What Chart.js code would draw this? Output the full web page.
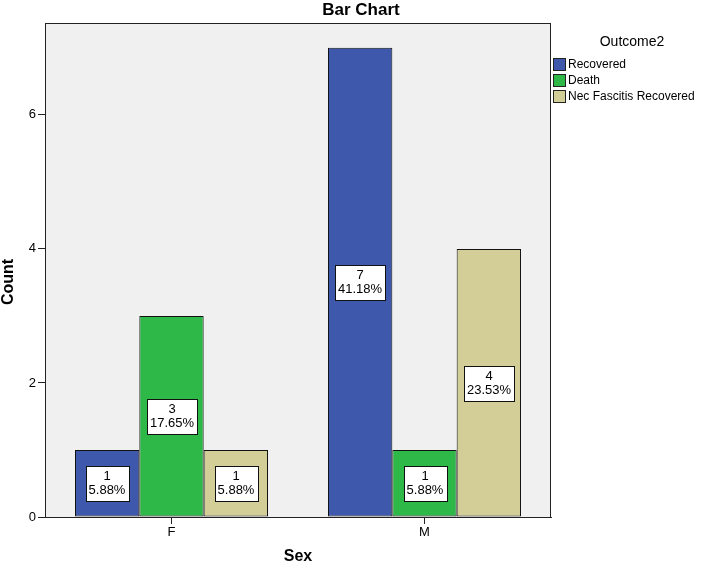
<!DOCTYPE html>
<html>
<head>
<meta charset="utf-8">
<script src="https://cdn.jsdelivr.net/npm/chart.js@4.4.1/dist/chart.umd.min.js"></script>
<style>
  html, body { margin: 0; padding: 0; background: #fff; }
  #wrap { width: 708px; height: 570px; }
</style>
</head>
<body>
<div id="wrap"><canvas id="bar-chart"></canvas></div>
<script>
    // Данные
    const categories = ['F', 'M'];
    const seriesNames = ['Recovered', 'Death', 'Nec Fascitis Recovered'];
    const recovered = [1, 7];
    const death = [3, 1];
    const necFascitisRecovered = [1, 4];
    const yTicks = [0, 2, 4, 6];
    const seriesColors = ['#3e58ac', '#2eb848', '#d3ce97'];

    const seriesValues = [recovered, death, necFascitisRecovered];
    const total = seriesValues.flat().reduce((a, b) => a + b, 0);
    const FONT = "'Liberation Sans', Arial, sans-serif";

    // Фон, рамка, подписи, заголовок и легенда в стиле SPSS
    const spssPlugin = {
        id: 'spss',
        beforeDraw(chart) {
            const { ctx, chartArea: a } = chart;
            ctx.save();
            ctx.fillStyle = '#f0f0f0';
            ctx.fillRect(a.left, a.top, a.width, a.height);
            ctx.restore();
        },
        afterDatasetsDraw(chart) {
            const ctx = chart.ctx;
            ctx.save();
            ctx.font = '13px ' + FONT;
            ctx.textAlign = 'center';
            ctx.textBaseline = 'middle';
            chart.data.datasets.forEach((ds, i) => {
                chart.getDatasetMeta(i).data.forEach((bar, j) => {
                    const v = ds.data[j];
                    const lines = [String(v), (v / total * 100).toFixed(2) + '%'];
                    const w = Math.round(Math.max(...lines.map(t => ctx.measureText(t).width)) + 6);
                    const h = 35;
                    const cx = Math.round(bar.x);
                    const cy = Math.round((bar.y + bar.base) / 2);
                    const x0 = Math.round(cx - w / 2) + 0.5;
                    const y0 = Math.round(cy - h / 2) + 0.5;
                    ctx.fillStyle = '#fff';
                    ctx.fillRect(x0, y0, w, h);
                    ctx.strokeStyle = '#111';
                    ctx.lineWidth = 1;
                    ctx.strokeRect(x0, y0, w, h);
                    ctx.fillStyle = '#000';
                    ctx.fillText(lines[0], cx, cy - 7);
                    ctx.fillText(lines[1], cx, cy + 7);
                });
            });
            ctx.restore();
        },
        afterDraw(chart) {
            const { ctx, chartArea: a } = chart;
            ctx.save();
            ctx.strokeStyle = '#222';
            ctx.lineWidth = 1;
            ctx.strokeRect(a.left + 0.5, a.top + 0.5, a.width - 1, a.height);

            // заголовок
            ctx.fillStyle = '#000';
            ctx.font = 'bold 17px ' + FONT;
            ctx.textAlign = 'center';
            ctx.textBaseline = 'middle';
            ctx.fillText('Bar Chart', 361, 10);

            // подпись оси Y
            ctx.save();
            ctx.translate(9, 282);
            ctx.rotate(-Math.PI / 2);
            ctx.font = 'bold 16px ' + FONT;
            ctx.fillText('Count', 0, 0);
            ctx.restore();

            // легенда
            const lx = a.right + 2;
            ctx.font = '14px ' + FONT;
            ctx.fillText('Outcome2', 632, 42);
            ctx.font = '12px ' + FONT;
            ctx.textAlign = 'left';
            chart.data.datasets.forEach((ds, i) => {
                const y = 58 + i * 16;
                ctx.fillStyle = ds.backgroundColor;
                ctx.fillRect(lx + 0.5, y + 0.5, 12, 12);
                ctx.strokeStyle = '#222';
                ctx.strokeRect(lx + 0.5, y + 0.5, 12, 12);
                ctx.fillStyle = '#000';
                ctx.fillText(ds.label, lx + 15, y + 7);
            });
            ctx.restore();
        }
    };

    const ctx = document.getElementById('bar-chart').getContext('2d');
    const barChart = new Chart(ctx, {
        type: 'bar',
        data: {
            labels: categories,
            datasets: seriesNames.map((name, i) => ({
                label: name,
                data: seriesValues[i],
                backgroundColor: seriesColors[i],
                borderColor: '#111',
                borderWidth: 1,
                borderSkipped: false,
                categoryPercentage: 0.763,
                barPercentage: 1
            }))
        },
        options: {
            responsive: true,
            maintainAspectRatio: false,
            animation: false,
            layout: { padding: { top: 23, right: 157, left: 0, bottom: 0 } },
            plugins: {
                legend: { display: false },
                title: { display: false },
                tooltip: { enabled: false }
            },
            scales: {
                x: {
                    grid: { drawOnChartArea: false, offset: false, tickLength: 7, color: '#222' },
                    border: { color: '#222' },
                    ticks: { color: '#000', font: { family: FONT, size: 13 }, padding: 1 },
                    title: { display: true, text: 'Sex', color: '#000', font: { family: FONT, size: 16, weight: 'bold' }, padding: { top: 4, bottom: 4 } },
                    afterFit(s) { s.height = 53; }
                },
                y: {
                    min: 0,
                    max: 7.37,
                    afterBuildTicks(s) { s.ticks = yTicks.map(v => ({ value: v })); },
                    grid: { drawOnChartArea: false, tickLength: 7, color: '#222' },
                    border: { color: '#222' },
                    ticks: { color: '#000', font: { family: FONT, size: 13 }, padding: 2 },
                    title: { display: false },
                    afterFit(s) { s.width = 45; }
                }
            }
        },
        plugins: [spssPlugin]
    });
</script>
</body>
</html>
